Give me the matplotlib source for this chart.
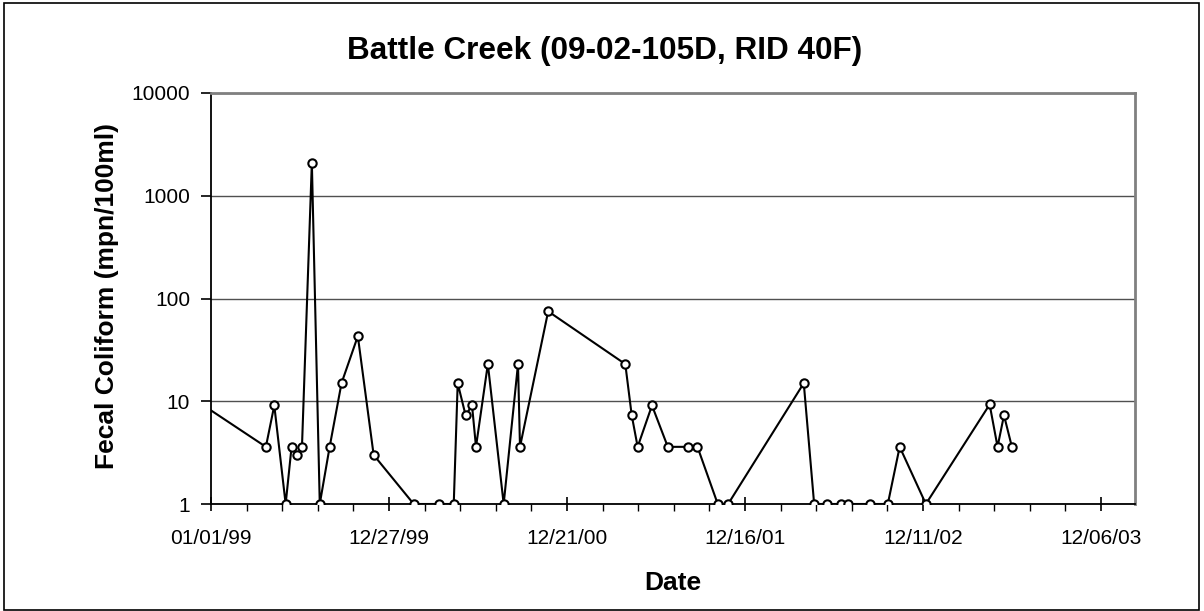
import matplotlib
matplotlib.use("Agg")
import matplotlib.pyplot as plt
import matplotlib.dates as mdates
from matplotlib.ticker import FixedLocator, FixedFormatter, NullLocator
from matplotlib.patches import Rectangle
import datetime as dt

plt.rcParams['font.family'] = ['Liberation Sans', 'DejaVu Sans']

title = "Battle Creek (09-02-105D, RID 40F)"
x_label = "Date"
y_label = "Fecal Coliform (mpn/100ml)"

dates = [
    "1998-10-10", "1999-04-22", "1999-05-09", "1999-06-01", "1999-06-13",
    "1999-06-24", "1999-07-04", "1999-07-24", "1999-08-09", "1999-08-29",
    "1999-09-22", "1999-10-25", "1999-11-26", "2000-02-15", "2000-04-07",
    "2000-05-06", "2000-05-14", "2000-05-30", "2000-06-12", "2000-06-20",
    "2000-07-14", "2000-08-15", "2000-09-13", "2000-09-17", "2000-11-13",
    "2001-04-18", "2001-05-01", "2001-05-13", "2001-06-11", "2001-07-13",
    "2001-08-22", "2001-09-11", "2001-10-22", "2001-11-12", "2002-04-14",
    "2002-05-05", "2002-06-01", "2002-06-29", "2002-07-12", "2002-08-26",
    "2002-10-01", "2002-10-25", "2002-12-17", "2003-04-25", "2003-05-11",
    "2003-05-24", "2003-06-09",
]
values = [
    15, 3.6, 9.1, 1, 3.6,
    3, 3.6, 2100, 1, 3.6,
    15, 43, 3, 1, 1,
    1, 15, 7.3, 9.1, 3.6,
    23, 1, 23, 3.6, 75,
    23, 7.3, 3.6, 9.1, 3.6,
    3.6, 3.6, 1, 1, 15,
    1, 1, 1, 1, 1,
    1, 3.6, 1, 9.3, 3.6,
    7.3, 3.6,
]
y_ticks = [1, 10, 100, 1000, 10000]
y_tick_labels = ["1", "10", "100", "1000", "10000"]
x_start = "1999-01-01"
x_tick_step_days = 360
x_minor_step_days = 72
x_tick_count = 6
x_end_days = 1869

W, H = 1204, 611
fig = plt.figure(figsize=(W / 100, H / 100), dpi=100)
L, R, T, B = 211, 1135, 93, 504
ax = fig.add_axes([L / W, 1 - B / H, (R - L) / W, (B - T) / H])

xd = [dt.datetime.strptime(d, "%Y-%m-%d") for d in dates]
ax.plot(xd, values, color='black', lw=1.5, marker='o', ms=6,
        mfc='white', mec='black', mew=1.5, zorder=3)

ax.set_yscale('log')
ax.set_ylim(1, 10000)
ax.yaxis.set_major_locator(FixedLocator(y_ticks))
ax.yaxis.set_major_formatter(FixedFormatter(y_tick_labels))
ax.yaxis.set_minor_locator(NullLocator())

x0 = dt.datetime.strptime(x_start, "%Y-%m-%d")
ax.set_xlim(x0, x0 + dt.timedelta(days=x_end_days))
major = [x0 + dt.timedelta(days=x_tick_step_days * i) for i in range(x_tick_count)]
minor = [x0 + dt.timedelta(days=x_minor_step_days * i)
         for i in range(int(x_end_days / x_minor_step_days) + 1)]
ax.xaxis.set_major_locator(FixedLocator(mdates.date2num(major)))
ax.xaxis.set_minor_locator(FixedLocator(mdates.date2num(minor)))
ax.xaxis.set_major_formatter(mdates.DateFormatter('%m/%d/%y'))

ax.grid(axis='y', which='major', color='#505050', lw=1.0)
ax.set_axisbelow(True)

for s in ['top', 'right']:
    ax.spines[s].set_color('#808080')
    ax.spines[s].set_linewidth(2)
for s in ['left', 'bottom']:
    ax.spines[s].set_color('black')
    ax.spines[s].set_linewidth(1.3)

ax.tick_params(axis='y', which='major', length=7, width=1.2, direction='out',
               labelsize=15, pad=8)
ax.tick_params(axis='x', which='major', length=10, width=1.2, direction='inout',
               labelsize=15, pad=13)
ax.tick_params(axis='x', which='minor', length=5, width=1.0, direction='out')

fig.text(605 / W, 1 - 59 / H, title, fontsize=22.7, fontweight='bold',
         ha='center', va='baseline')
fig.text(673 / W, 1 - 590 / H, x_label, fontsize=19, fontweight='bold',
         ha='center', va='baseline')
fig.text(107 / W, 1 - 296.5 / H, y_label, fontsize=19, fontweight='bold',
         ha='center', va='center', rotation=90)

fig.patches.append(Rectangle((4 / W, 1.5 / H), 1195 / W, 607 / H,
                             transform=fig.transFigure, fill=False,
                             edgecolor='black', lw=1.2))

fig.savefig("out.png", dpi=100)
